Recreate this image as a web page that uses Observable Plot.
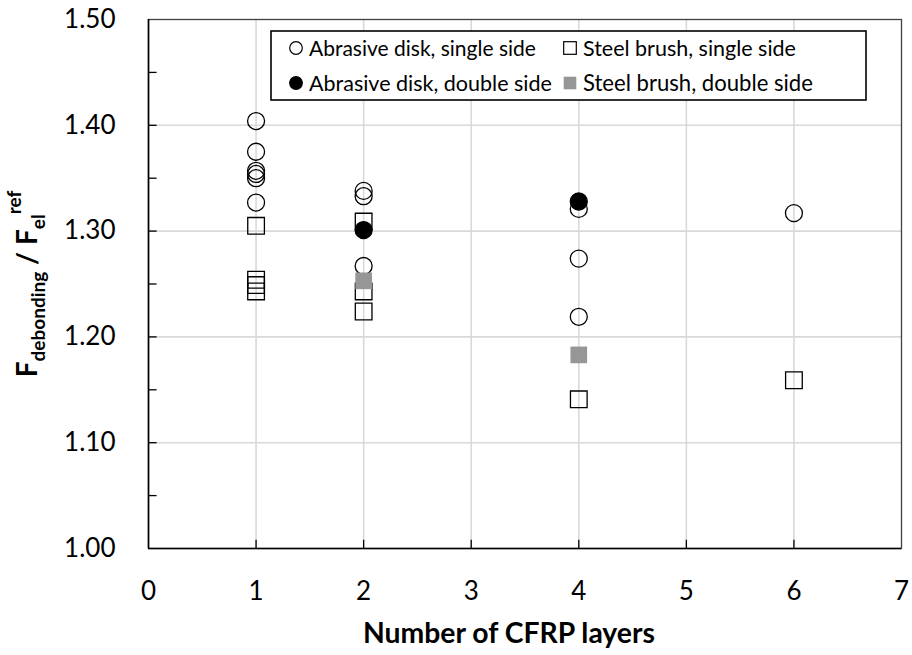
<!DOCTYPE html>
<html>
<head>
<meta charset="utf-8">
<script src="https://cdn.jsdelivr.net/npm/d3@7"></script>
<script src="https://cdn.jsdelivr.net/npm/@observablehq/plot@0.6"></script>
<style>
  html, body { margin: 0; padding: 0; background: #fff; }
  #chart { width: 912px; height: 655px; }
</style>
</head>
<body>
<div id="chart"></div>
<script>
// ---- Data ----
const abrasiveSingleX = [1, 1, 1, 1, 1, 1, 2, 2, 2, 4, 4, 4, 6];
const abrasiveSingleY = [1.404, 1.375, 1.357, 1.354, 1.350, 1.327, 1.338, 1.333, 1.267, 1.321, 1.274, 1.219, 1.317];
const abrasiveDoubleX = [2, 4];
const abrasiveDoubleY = [1.301, 1.328];
const steelSingleX = [1, 1, 1, 1, 2, 2, 2, 4, 6];
const steelSingleY = [1.305, 1.254, 1.249, 1.243, 1.309, 1.243, 1.224, 1.141, 1.159];
const steelDoubleX = [2, 4];
const steelDoubleY = [1.253, 1.183];

const xTicks = [0, 1, 2, 3, 4, 5, 6, 7];
const yTicks = [1.0, 1.1, 1.2, 1.3, 1.4, 1.5];
const yMinorTicks = [1.05, 1.1, 1.15, 1.2, 1.25, 1.3, 1.35, 1.4, 1.45];
const seriesLabels = [
  "Abrasive disk, single side",
  "Steel brush, single side",
  "Abrasive disk, double side",
  "Steel brush, double side"
];
const xLabel = "Number of CFRP layers";

const toRows = (xs, ys) => xs.map((x, i) => ({x, y: ys[i]}));
const aS = toRows(abrasiveSingleX, abrasiveSingleY);
const aD = toRows(abrasiveDoubleX, abrasiveDoubleY);
const sS = toRows(steelSingleX, steelSingleY);
const sD = toRows(steelDoubleX, steelDoubleY);

const FONT = "Lato, 'Open Sans', sans-serif";
const grid = "#d9d9d9";

const plot = Plot.plot({
  width: 912,
  height: 655,
  marginLeft: 148,
  marginRight: 11,
  marginTop: 19,
  marginBottom: 107,
  style: {fontFamily: FONT, background: "white", overflow: "visible"},
  x: {domain: [0, 7]},
  y: {domain: [1.0, 1.5]},
  marks: [
    Plot.gridX(xTicks.slice(1, -1), {stroke: grid, strokeOpacity: 1, strokeWidth: 1.6}),
    Plot.gridY(yTicks.slice(1, -1), {stroke: grid, strokeOpacity: 1, strokeWidth: 1.6}),
    Plot.axisY(yTicks, {tickSize: 0, tickPadding: 33, tickFormat: d3.format(".2f"), fontSize: 26, fill: "#000", label: null}),
    Plot.axisX(xTicks, {tickSize: 0, tickPadding: 33, tickFormat: d3.format("d"), fontSize: 26, fill: "#000", label: null}),
    Plot.ruleY(yMinorTicks, {x1: 0, x2: 0.08, stroke: "black", strokeWidth: 1.3}),
    Plot.ruleX(xTicks.slice(1, -1), {y1: 1.0, y2: 1.0078, stroke: "black", strokeWidth: 1.3}),
    Plot.frame({stroke: "#404040", strokeWidth: 1.3}),
    Plot.ruleX([0], {stroke: "black", strokeWidth: 1.6}),
    Plot.ruleY([1.0], {stroke: "black", strokeWidth: 1.6}),
    Plot.dot(aS, {x: "x", y: "y", r: 8.5, symbol: "circle", stroke: "black", strokeWidth: 1.3, fill: "none"}),
    Plot.dot(sS, {x: "x", y: "y", r: 9.4, symbol: "square", stroke: "black", strokeWidth: 1.3, fill: "none"}),
    Plot.dot(aD, {x: "x", y: "y", r: 8.5, symbol: "circle", stroke: "black", strokeWidth: 1.3, fill: "black"}),
    Plot.dot(sD, {x: "x", y: "y", r: 9.4, symbol: "square", stroke: "none", fill: "#969696"})
  ]
});

document.getElementById("chart").appendChild(plot);

const svg = d3.select(plot);

function fitWidth(sel, target) {
  const w = sel.node().getComputedTextLength();
  const fs = +sel.attr("font-size");
  if (w > 0) sel.attr("font-size", fs * target / w);
}

// X axis title
const xt = svg.append("text")
  .attr("x", 509).attr("y", 643)
  .attr("text-anchor", "middle")
  .attr("font-family", FONT).attr("font-weight", "bold").attr("font-size", 27)
  .attr("fill", "black")
  .text(xLabel);
fitWidth(xt, 292);

// Y axis title with sub/superscripts
const yt = svg.append("text")
  .attr("transform", "translate(37,284) rotate(-90)")
  .attr("text-anchor", "middle")
  .attr("font-family", FONT).attr("font-weight", "bold").attr("font-size", 28)
  .attr("fill", "black");
yt.append("tspan").text("F");
yt.append("tspan").attr("font-size", 19).attr("dy", 8).text("debonding");
yt.append("tspan").attr("dy", -8).text(" / F");
yt.append("tspan").attr("font-size", 19).attr("dy", 8).text("el");
yt.append("tspan").attr("font-size", 19).attr("dy", -24).text("ref");

// Legend box
const lg = svg.append("g").attr("font-family", FONT).attr("fill", "black").attr("text-anchor", "start");
lg.append("rect").attr("x", 271).attr("y", 31).attr("width", 595).attr("height", 69)
  .attr("fill", "white").attr("stroke", "black").attr("stroke-width", 1.6);
const items = [
  {lx: 296, ly: 48, kind: "circle", fill: "none", label: seriesLabels[0], w: 227},
  {lx: 570, ly: 48, kind: "square", fill: "none", label: seriesLabels[1], w: 213},
  {lx: 296, ly: 83, kind: "circle", fill: "black", label: seriesLabels[2], w: 243},
  {lx: 570, ly: 83, kind: "square", fill: "#969696", label: seriesLabels[3], w: 230}
];
for (const it of items) {
  if (it.kind === "circle") {
    lg.append("circle").attr("cx", it.lx).attr("cy", it.ly).attr("r", 6.3)
      .attr("fill", it.fill).attr("stroke", "black").attr("stroke-width", 1.2);
  } else {
    lg.append("rect").attr("x", it.lx - 6.3).attr("y", it.ly - 6.3).attr("width", 12.6).attr("height", 12.6)
      .attr("fill", it.fill === "none" ? "none" : it.fill)
      .attr("stroke", it.fill === "none" ? "black" : "none").attr("stroke-width", 1.2);
  }
  const t = lg.append("text").attr("x", it.lx + 13).attr("y", it.ly).attr("dy", "0.36em")
    .attr("font-size", 21).text(it.label);
  fitWidth(t, it.w);
}
</script>
</body>
</html>
